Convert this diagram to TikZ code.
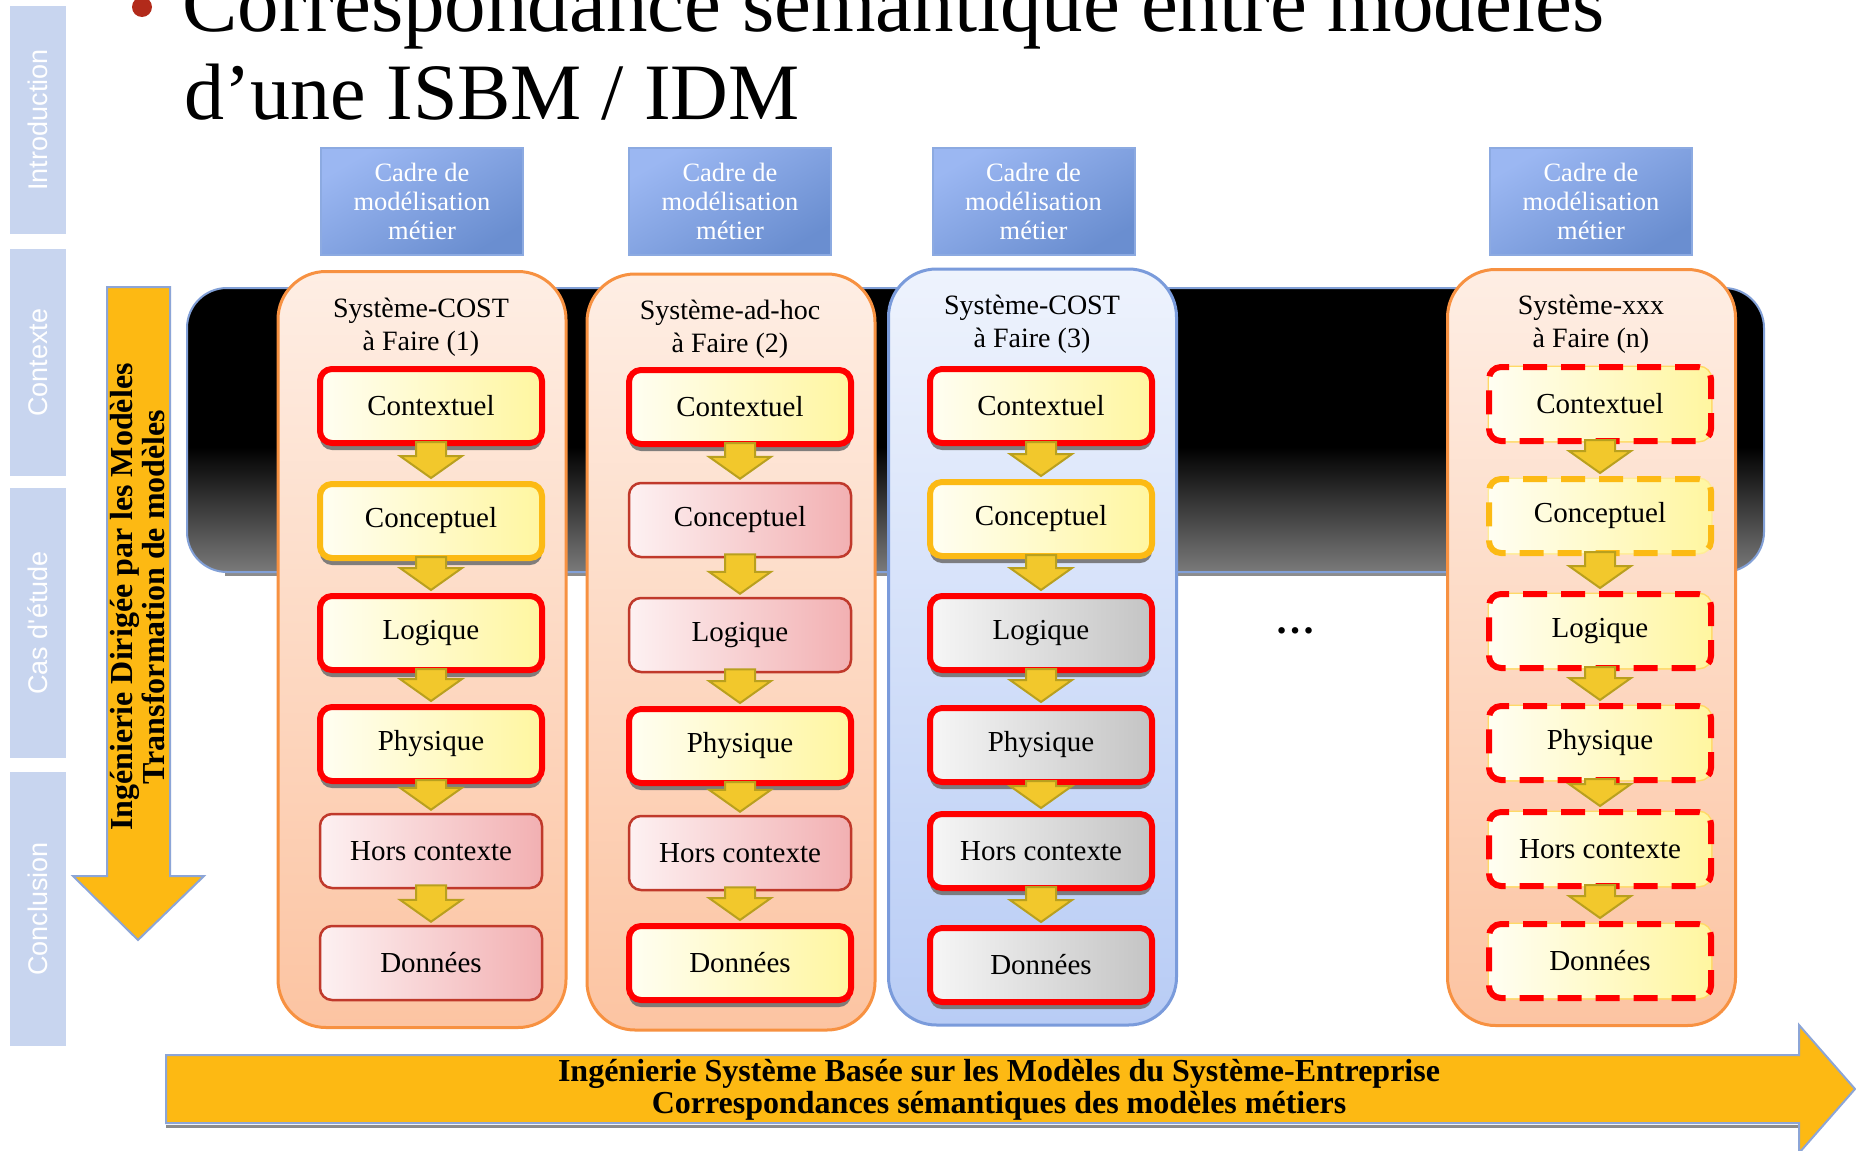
\documentclass[tikz,border=0pt]{standalone}
\usepackage{fontspec}
\setmainfont{Liberation Serif}
\newfontfamily\sidefont{Liberation Sans}
\usetikzlibrary{calc,shadows}

\definecolor{arrowyel}{RGB}{253,185,19}
\definecolor{arrowedge}{RGB}{140,165,215}
\definecolor{sidebl}{RGB}{200,213,239}
\definecolor{cadreA}{RGB}{155,183,242}
\definecolor{cadreB}{RGB}{106,142,208}
\definecolor{cadreedge}{RGB}{140,170,225}
\definecolor{colorange}{RGB}{247,145,65}
\definecolor{peachtop}{RGB}{254,238,228}
\definecolor{peachbot}{RGB}{252,196,162}
\definecolor{bluetop}{RGB}{238,243,253}
\definecolor{bluebot}{RGB}{184,204,245}
\definecolor{blueedge}{RGB}{122,155,219}
\definecolor{creamL}{RGB}{255,254,242}
\definecolor{yelR}{RGB}{255,246,160}
\definecolor{pinkL}{RGB}{253,241,242}
\definecolor{pinkR}{RGB}{242,176,178}
\definecolor{pinkedge}{RGB}{192,57,43}
\definecolor{grayL}{RGB}{246,246,246}
\definecolor{grayR}{RGB}{196,196,196}
\definecolor{boxred}{RGB}{255,0,0}
\definecolor{boxorange}{RGB}{252,186,20}
\definecolor{gapgold}{RGB}{255,217,102}
\definecolor{gapyel}{RGB}{255,236,150}
\definecolor{flowyel}{RGB}{242,200,44}
\definecolor{flowedge}{RGB}{185,160,30}
\definecolor{bulletred}{RGB}{178,42,26}
\definecolor{bandgray}{RGB}{122,122,122}
\definecolor{bandedge}{RGB}{130,160,215}

\tikzset{
  sidestrip/.style={fill=sidebl, rotate=90, minimum height=56pt, inner sep=0pt,
    text=white, font=\sidefont\fontsize{27}{30}\selectfont},
  cadre/.style={minimum width=202pt, minimum height=107pt, inner sep=0pt,
    top color=cadreA, bottom color=cadreB, shading angle=30, draw=cadreedge,
    line width=2pt, text=white, align=center, font=\fontsize{26.5}{29}\selectfont},
  syscol/.style={minimum width=288pt, minimum height=756pt, rounded corners=48pt,
    line width=3pt, inner sep=0pt},
  peachcol/.style={syscol, top color=peachtop, bottom color=peachbot, draw=colorange},
  bluecol/.style={syscol, top color=bluetop, bottom color=bluebot, draw=blueedge},
  systitle/.style={align=center, font=\fontsize{28}{33}\selectfont, inner sep=0pt},
  lvl/.style={minimum width=222pt, minimum height=74pt, rounded corners=12pt,
    inner sep=0pt, font=\fontsize{29}{34}\selectfont},
  boxshadow/.style={drop shadow={shadow xshift=0pt, shadow yshift=-7pt,
    fill=black!55, opacity=0.9}},
  redY/.style={lvl, boxshadow, left color=creamL, right color=yelR, draw=boxred, line width=6pt},
  orgY/.style={lvl, boxshadow, left color=creamL, right color=yelR, draw=boxorange, line width=6pt},
  pinkB/.style={lvl, left color=pinkL, right color=pinkR, draw=pinkedge, line width=2.5pt},
  redG/.style={lvl, boxshadow, left color=grayL, right color=grayR, draw=boxred, line width=6pt},
  dashY/.style={lvl, left color=creamL, right color=yelR, draw=boxred, line width=6pt,
    dash pattern=on 24pt off 14pt, preaction={draw=gapgold, line width=3pt, solid}},
  dashO/.style={lvl, left color=creamL, right color=yelR, draw=boxorange, line width=6pt,
    dash pattern=on 24pt off 14pt, preaction={draw=gapyel, line width=3pt, solid}},
  flowarr/.style={fill=flowyel, draw=flowedge, line width=2pt, line join=miter},
  bigarrow/.style={fill=arrowyel, draw=arrowedge, line width=2pt, line join=miter},
  arrowtext/.style={font=\bfseries\fontsize{32}{32}\selectfont, align=center, inner sep=0pt},
}

\newcommand\lvlarrow[2]{%
  \draw[flowarr] ($(#1.south)+(-15,-4)$) -- ($(#1.south)+(15,-4)$)
    -- ($(#2.north)+(15,-25)$) -- ($(#2.north)+(31,-25)$) -- ($(#2.north)+(0,-3)$)
    -- ($(#2.north)+(-31,-25)$) -- ($(#2.north)+(-15,-25)$) -- cycle;}

\begin{document}
\begin{tikzpicture}[x=1pt,y=-1pt]
\useasboundingbox (0,0) rectangle (1856,1151);
\fill[white] (0,0) rectangle (1856,1151);

% sidebar
\node[sidestrip, minimum width=228pt] (s1) at (38,120) {Introduction};
\node[sidestrip, minimum width=227pt] (s2) at (38,362.5) {Contexte};
\node[sidestrip, minimum width=270pt] (s3) at (38,623) {Cas d'étude};
\node[sidestrip, minimum width=274pt] (s4) at (38,909) {Conclusion};

% title
\fill[bulletred] (142,7) circle (10pt);
\node[anchor=base west, inner sep=0pt, font=\fontsize{83}{90}\selectfont] (t1) at (182,31)
  {Correspondance sémantique entre modèles};
\node[anchor=base west, inner sep=0pt, font=\fontsize{80}{90}\selectfont] (t2) at (184,119)
  {d'une ISBM / IDM};

% black band
\draw[black!45, line width=3pt] (225,574) -- (1726,574);
\begin{scope}
  \clip[rounded corners=40pt] (187,288) rectangle (1764,572);
  \fill[black] (187,288) rectangle (1764,572);
  \shade[top color=black, bottom color=bandgray] (187,447) rectangle (1764,572);
\end{scope}
\draw[bandedge, rounded corners=40pt, line width=2pt] (187,288) rectangle (1764,572);

% left vertical arrow
\draw[bigarrow] (107,287) -- (170,287) -- (170,876) -- (204,876) -- (138,940)
  -- (73,876) -- (107,876) -- cycle;
\node[arrowtext, rotate=90] (vtext) at (138,597)
  {Ingénierie Dirigée par les Modèles\\Transformation de modèles};

% bottom horizontal arrow
\draw[black!45, line width=3pt] (166,1126) -- (1799,1126);
\draw[bigarrow] (166,1055) -- (1799,1055) -- (1799,1025) -- (1855,1089)
  -- (1799,1153) -- (1799,1123) -- (166,1123) -- cycle;
\node[arrowtext] (htext) at (999,1090)
  {Ingénierie Système Basée sur les Modèles du Système-Entreprise\\
   Correspondances sémantiques des modèles métiers};

% cadre boxes
\node[cadre] (k1) at (422,201.5) {Cadre de\\modélisation\\métier};
\node[cadre] (k2) at (730,201.5) {Cadre de\\modélisation\\métier};
\node[cadre] (k3) at (1033.5,201.5) {Cadre de\\modélisation\\métier};
\node[cadre] (k4) at (1591,201.5) {Cadre de\\modélisation\\métier};

% system columns
\node[peachcol] (col1) at (422,649.5) {};
\node[peachcol] (col2) at (731,652) {};
\node[bluecol]  (col3) at (1032.5,647) {};
\node[peachcol] (col4) at (1591.5,647.5) {};

\node[systitle] (h1) at (421,327) {Système-COST\\à Faire (1)};
\node[systitle] (h2) at (730,329) {Système-ad-hoc\\à Faire (2)};
\node[systitle] (h3) at (1032,324) {Système-COST\\à Faire (3)};
\node[systitle] (h4) at (1591,324) {Système-xxx\\à Faire (n)};

% column 1
\node[redY]  (c1a) at (431,406) {Contextuel};
\node[orgY]  (c1b) at (431,521) {Conceptuel};
\node[redY]  (c1c) at (431,633) {Logique};
\node[redY]  (c1d) at (431,744) {Physique};
\node[pinkB] (c1e) at (431,851) {Hors contexte};
\node[pinkB] (c1f) at (431,963) {Données};
% column 2
\node[redY]  (c2a) at (740,407) {Contextuel};
\node[pinkB] (c2b) at (740,520) {Conceptuel};
\node[pinkB] (c2c) at (740,635) {Logique};
\node[redY]  (c2d) at (740,746) {Physique};
\node[pinkB] (c2e) at (740,853) {Hors contexte};
\node[redY]  (c2f) at (740,963) {Données};
% column 3
\node[redY] (c3a) at (1041,406) {Contextuel};
\node[orgY] (c3b) at (1041,519) {Conceptuel};
\node[redG] (c3c) at (1041,633) {Logique};
\node[redG] (c3d) at (1041,745) {Physique};
\node[redG] (c3e) at (1041,851) {Hors contexte};
\node[redG] (c3f) at (1041,965) {Données};
% column 4
\node[dashY] (c4a) at (1600,404) {Contextuel};
\node[dashO] (c4b) at (1600,516) {Conceptuel};
\node[dashY] (c4c) at (1600,631) {Logique};
\node[dashY] (c4d) at (1600,743) {Physique};
\node[dashY] (c4e) at (1600,849) {Hors contexte};
\node[dashY] (c4f) at (1600,961) {Données};

% level arrows
\foreach \c in {1,2,3,4}{
  \foreach \p/\q in {a/b,b/c,c/d,d/e,e/f}{
    \lvlarrow{c\c\p}{c\c\q}
  }
}

% ellipsis
\node[inner sep=0pt, font=\bfseries\fontsize{40}{40}\selectfont] (dots) at (1295,631) {…};

\end{tikzpicture}
\end{document}
